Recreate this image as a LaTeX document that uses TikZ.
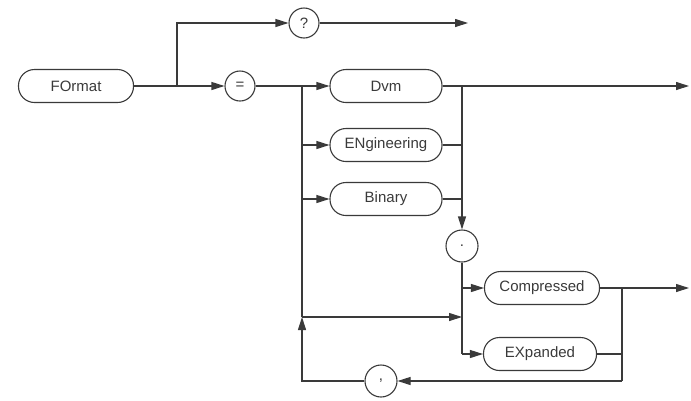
\documentclass[tikz,border=0pt]{standalone}
\usepackage{fontspec}
\setmainfont{Liberation Sans}
\usepackage{tikz}
\usetikzlibrary{arrows.meta}
\definecolor{inkGrey}{HTML}{3A3A3A}

\begin{document}
\begin{tikzpicture}[x=1pt, y=-1pt,
        font=\fontsize{15}{18}\selectfont,
        keyword/.style={draw=inkGrey, line width=1.1pt, rounded corners=16pt,
                        minimum height=33pt, inner sep=0pt, text=inkGrey},
        sepcirc/.style={draw=inkGrey, line width=1.1pt, circle,
                        minimum size=30pt, inner sep=0pt, text=inkGrey},
        wire/.style={draw=inkGrey, line width=1.1pt},
        arr/.style={wire, -{Triangle[length=13pt,width=8pt]}}
    ]
        \useasboundingbox (0,0) rectangle (691,400);

        \node[keyword, minimum width=115pt] (format) at (76,86) {FOrmat};
        \node[sepcirc] (query) at (304,23) {?};
        \node[sepcirc] (equal) at (240,86) {=};

        \node[keyword, minimum width=112pt] (dvm) at (386,86) {Dvm};
        \node[keyword, minimum width=112pt] (eng) at (386,145) {ENgineering};
        \node[keyword, minimum width=112pt] (bin) at (386,199) {Binary};
        \node[sepcirc, minimum size=32pt] (dot) at (462,246) {.};

        \node[keyword, minimum width=115pt] (comp) at (542,288) {Compressed};
        \node[keyword, minimum width=113pt] (expd) at (540,354) {EXpanded};
        \node[sepcirc, minimum size=32pt] (comma) at (381,381) {,};

        \coordinate (split) at (177,86);
        \coordinate (fork) at (302,86);
        \coordinate (merge) at (462,86);
        \coordinate (skip) at (302,317);
        \coordinate (join) at (462,317);
        \coordinate (close) at (622,288);
        \coordinate (exitTop) at (468,23);
        \coordinate (exitMain) at (689,86);
        \coordinate (exitComp) at (689,288);

        % query branch
        \draw[wire] (format) -- (split);
        \draw[arr] (split) |- (query);
        \draw[arr] (query) -- (exitTop);

        % format choice
        \draw[arr] (split) -- (equal);
        \draw[wire] (equal) -- (fork);
        \draw[arr] (fork) -- (dvm);
        \draw[arr] (fork |- eng) -- (eng);
        \draw[arr] (fork |- bin) -- (bin);
        \draw[wire] (fork) -- (skip);
        \draw[arr] (skip) -- (join);
        \draw[arr] (dvm) -- (exitMain);
        \draw[wire] (eng) -- (eng -| merge);
        \draw[wire] (bin) -- (bin -| merge);
        \draw[arr] (merge) -- (dot);

        % compressed / expanded
        \draw[wire] (dot) -- (dot |- expd);
        \draw[arr] (dot |- comp) -- (comp);
        \draw[arr] (dot |- expd) -- (expd);
        \draw[arr] (comp) -- (exitComp);
        \draw[wire] (expd) -| (close);
        \draw[wire] (close) -- (close |- comma);
        \draw[arr] (close |- comma) -- (comma);
        \draw[arr] (comma) -| (skip);
    \end{tikzpicture}
\end{document}
